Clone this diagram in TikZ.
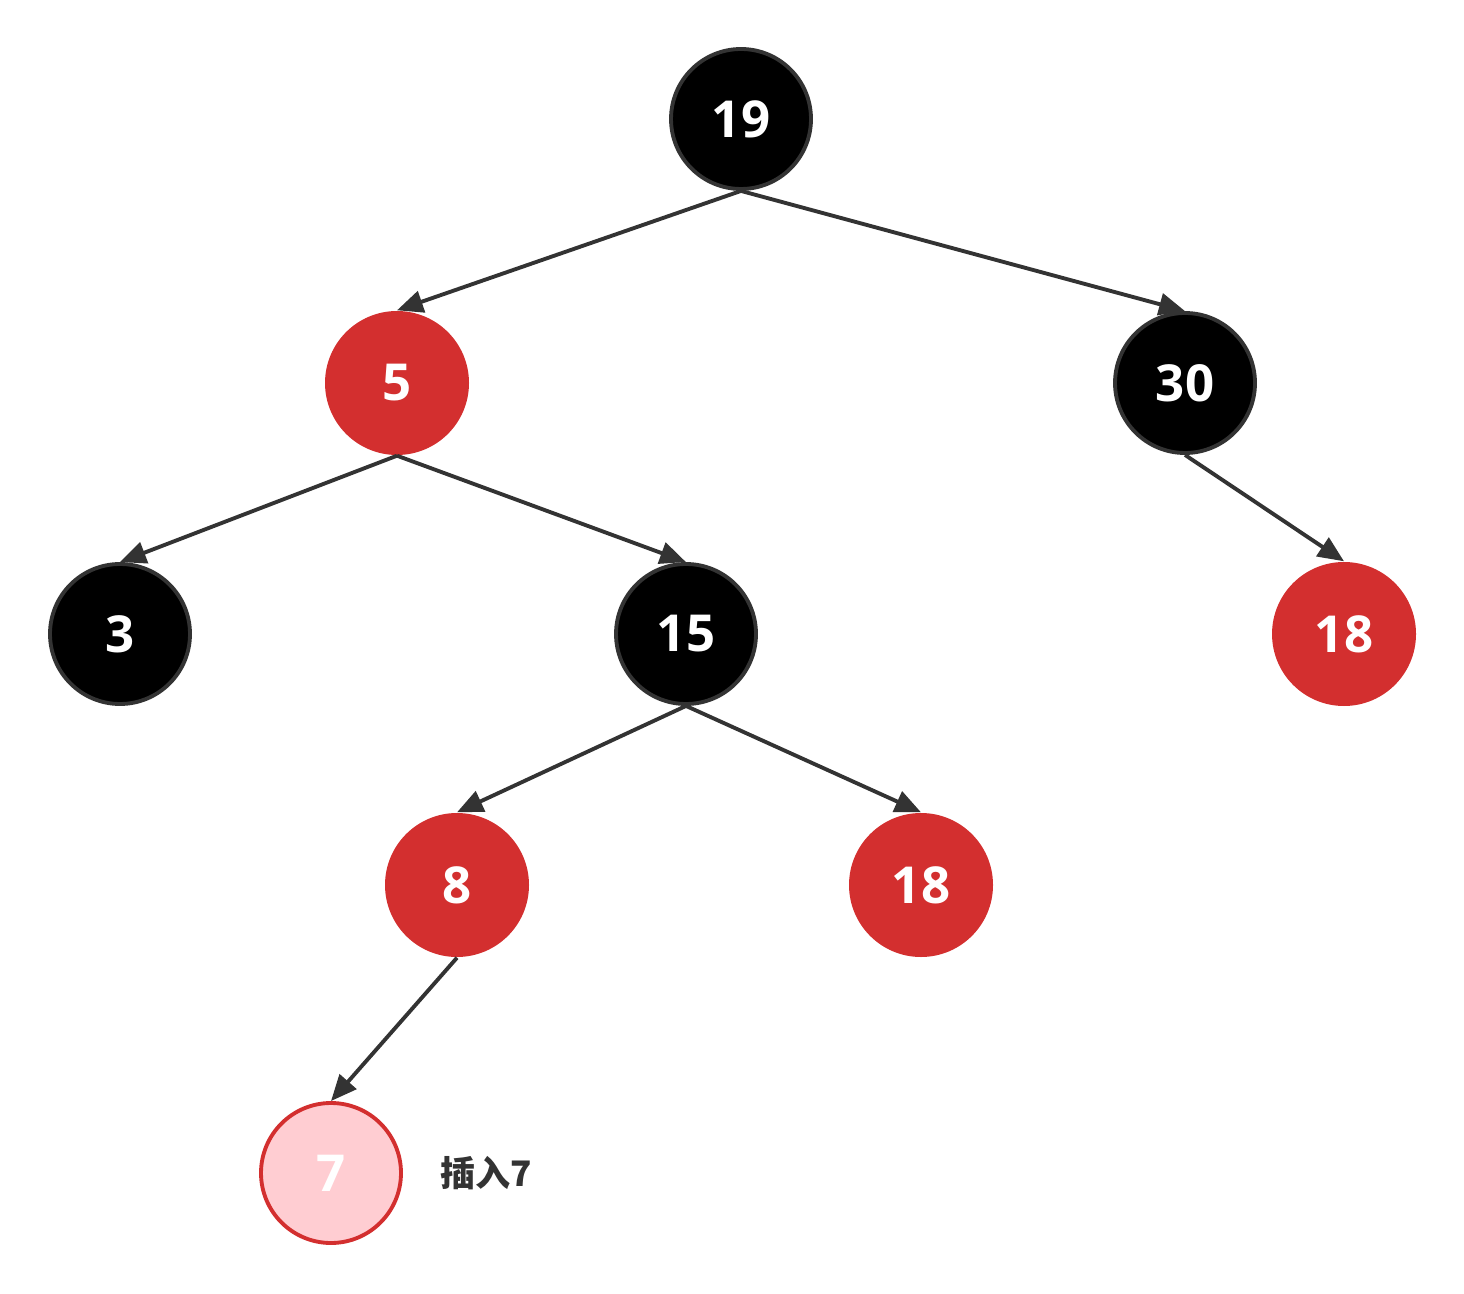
\documentclass[tikz,border=0pt]{standalone}
\usepackage{fontspec}
\setmainfont{Open Sans}
\newfontfamily\cjk{Noto Sans CJK SC}
\usetikzlibrary{arrows.meta}
\definecolor{nodeRed}{HTML}{D32F2F}
\definecolor{nodePink}{HTML}{FFCDD2}
\definecolor{edgeGray}{HTML}{333333}

\begin{document}
\begin{tikzpicture}[
  rb/.style={circle, minimum size=1.4cm, inner sep=0pt, text=white,
             font=\fontsize{14.5}{16}\selectfont\bfseries},
  blacknode/.style={rb, fill=black, draw=edgeGray, line width=1.1pt},
  rednode/.style={rb, minimum size=1.44cm, fill=nodeRed},
  newnode/.style={rb, fill=nodePink, draw=nodeRed, line width=1.1pt},
  edge/.style={draw=edgeGray, line width=1.1pt,
               -{Triangle[length=0.26cm, width=0.22cm]}},
]
  \useasboundingbox (0,0) rectangle (14.64,-12.94);
  % --- cây đỏ đen ---
  \node[blacknode] (n19)  at (7.41,-1.19)  {19};
  \node[rednode]   (n5)   at (3.97,-3.83)  {5};
  \node[blacknode] (n30)  at (11.85,-3.83) {30};
  \node[blacknode] (n3)   at (1.20,-6.34)  {3};
  \node[blacknode] (n15)  at (6.86,-6.34)  {15};
  \node[rednode]   (n18a) at (13.44,-6.34) {18};
  \node[rednode]   (n8)   at (4.57,-8.85)  {8};
  \node[rednode]   (n18b) at (9.21,-8.85)  {18};
  % --- nút mới chèn ---
  \node[newnode]   (n7)   at (3.31,-11.73) {7};
  \node[text=edgeGray, font=\cjk\fontsize{10}{12}\selectfont\bfseries]
    (lbl) at (4.86,-11.73) {插入7};
  % --- cạnh cha -> con ---
  \foreach \p/\c in {n19/n5, n19/n30, n5/n3, n5/n15, n30/n18a, n15/n8, n15/n18b, n8/n7}
    \draw[edge] (\p.south) -- (\c.north);
\end{tikzpicture}
\end{document}
